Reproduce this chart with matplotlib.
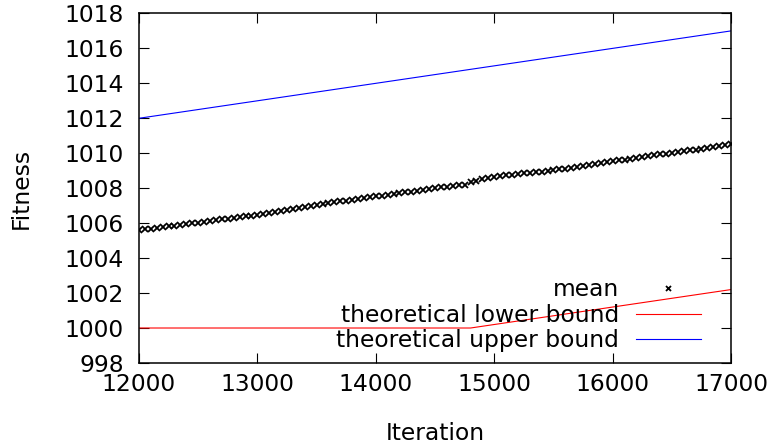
import numpy as np
import matplotlib
matplotlib.use("Agg")
import matplotlib.pyplot as plt

# mean fitness, every 50 iterations
iters = np.arange(12000, 17001, 50)
mean = [
    1005.60, 1005.65, 1005.69, 1005.73, 1005.78, 1005.82, 1005.86, 1005.90,
    1005.94, 1005.98, 1006.03, 1006.08, 1006.13, 1006.17, 1006.21, 1006.26,
    1006.30, 1006.35, 1006.39, 1006.43, 1006.48, 1006.53, 1006.58, 1006.63,
    1006.68, 1006.74, 1006.79, 1006.84, 1006.90, 1006.97, 1007.06, 1007.10,
    1007.14, 1007.19, 1007.24, 1007.29, 1007.34, 1007.39, 1007.43, 1007.48,
    1007.53, 1007.58, 1007.62, 1007.66, 1007.71, 1007.76, 1007.81, 1007.86,
    1007.91, 1007.96, 1008.01, 1008.05, 1008.09, 1008.13, 1008.16, 1008.20,
    1008.33, 1008.43, 1008.50, 1008.57, 1008.64, 1008.68, 1008.74, 1008.78,
    1008.81, 1008.85, 1008.89, 1008.92, 1008.95, 1008.99, 1009.02, 1009.07,
    1009.12, 1009.17, 1009.22, 1009.28, 1009.33, 1009.39, 1009.44, 1009.49,
    1009.54, 1009.59, 1009.64, 1009.69, 1009.73, 1009.78, 1009.83, 1009.88,
    1009.93, 1009.98, 1010.02, 1010.07, 1010.12, 1010.17, 1010.21, 1010.26,
    1010.31, 1010.36, 1010.40, 1010.45, 1010.50,
]

lower_x = [12000, 14800, 17000]
lower_y = [1000, 1000, 1002.2]

upper_x = [12000, 17000]
upper_y = [1012, 1017]

xticks = [12000, 13000, 14000, 15000, 16000, 17000]
yticks = list(range(998, 1019, 2))

plt.rcParams["font.family"] = "DejaVu Sans"
plt.rcParams["font.size"] = 16.8

fig = plt.figure(figsize=(7.72, 4.47), dpi=100)
ax = fig.add_axes([0.180, 0.188, 0.767, 0.782])

ax.plot(iters, mean, linestyle="none", marker="x", markersize=4.5,
        markeredgewidth=1.3, color="black", label="mean")
ax.plot(lower_x, lower_y, color="#ff0000", linewidth=0.8,
        label="theoretical lower bound")
ax.plot(upper_x, upper_y, color="#0000ff", linewidth=0.8,
        label="theoretical upper bound")

ax.set_xlim(12000, 17000)
ax.set_ylim(998, 1018)
ax.set_xticks(xticks)
ax.set_yticks(yticks)

ax.tick_params(direction="in", length=7.5, width=0.8, top=True, right=True)
ax.tick_params(axis="x", pad=7)
ax.tick_params(axis="y", pad=11)
for s in ax.spines.values():
    s.set_linewidth(1.1)

ax.set_xlabel("Iteration")
ax.set_ylabel("Fitness")
ax.xaxis.set_label_coords(0.5, -0.169)
ax.yaxis.set_label_coords(-0.18, 0.5)

leg = ax.legend(loc="lower right", bbox_to_anchor=(0.949, 0.03),
                frameon=False, markerfirst=False, borderpad=0,
                borderaxespad=0, handlelength=2.8, handletextpad=0.7,
                labelspacing=0.12, markerscale=0.8)

fig.savefig("out.png", dpi=100)
